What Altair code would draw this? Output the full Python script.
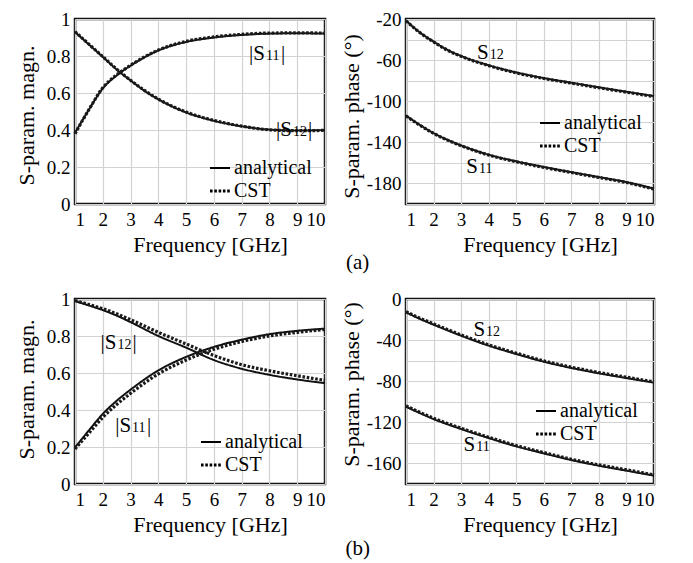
import altair as alt
import pandas as pd

FONT = "Liberation Serif"
GFONT = alt.ExprRef(expr="'Liberation Serif'")
METHODS = ["analytical", "CST"]
FREQ_TICKS = [1, 2, 3, 4, 5, 6, 7, 8, 9, 10]

# ---------- (a) magnitude ----------
A_MAG_F = [1, 1.5, 2, 2.5, 3, 3.5, 4, 5, 6, 7, 8, 9, 10]
A_S11_MAG_AN = [0.385, 0.51, 0.625, 0.695, 0.748, 0.793, 0.83, 0.876, 0.90, 0.914, 0.921, 0.923, 0.921]
A_S11_MAG_CST = [0.38, 0.51, 0.628, 0.698, 0.75, 0.795, 0.832, 0.879, 0.903, 0.917, 0.924, 0.925, 0.924]
A_S12_MAG_AN = [0.93, 0.862, 0.795, 0.727, 0.668, 0.612, 0.566, 0.495, 0.45, 0.42, 0.402, 0.397, 0.40]
A_S12_MAG_CST = [0.932, 0.864, 0.797, 0.729, 0.669, 0.614, 0.567, 0.497, 0.452, 0.421, 0.401, 0.396, 0.398]

# ---------- (a) phase ----------
A_PH_F = [1, 1.5, 2, 2.5, 3, 4, 5, 6, 7, 8, 9, 10]
A_S12_PH_AN = [-21.5, -33, -42, -50, -56, -65, -72, -77.5, -82, -86.5, -90.8, -95]
A_S12_PH_CST = [-21.8, -33.2, -42.3, -50.3, -56.3, -65.4, -72.4, -77.9, -82.4, -86.9, -91.2, -95.5]
A_S11_PH_AN = [-114, -123, -131, -137.5, -143, -152, -158.5, -164, -169, -173.8, -178.7, -185]
A_S11_PH_CST = [-114.3, -123.3, -131.3, -137.8, -143.3, -152.4, -158.9, -164.4, -169.4, -174.2, -179.1, -185.5]

# ---------- (b) magnitude ----------
B_MAG_F = [1, 1.5, 2, 2.5, 3, 4, 5, 6, 7, 8, 9, 10]
B_S11_MAG_AN = [0.197, 0.29, 0.379, 0.45, 0.51, 0.614, 0.687, 0.741, 0.78, 0.81, 0.828, 0.84]
B_S11_MAG_CST = [0.19, 0.275, 0.36, 0.43, 0.49, 0.595, 0.67, 0.728, 0.77, 0.80, 0.82, 0.835]
B_S12_MAG_AN = [0.989, 0.965, 0.94, 0.91, 0.875, 0.80, 0.737, 0.67, 0.623, 0.59, 0.565, 0.545]
B_S12_MAG_CST = [0.992, 0.97, 0.948, 0.92, 0.888, 0.82, 0.757, 0.695, 0.645, 0.612, 0.585, 0.56]

# ---------- (b) phase ----------
B_PH_F = [1, 1.5, 2, 3, 4, 5, 6, 7, 8, 9, 10]
B_S12_PH_AN = [-13, -19.3, -25, -35.7, -45.4, -53.5, -61, -67.1, -72.3, -76.9, -81.4]
B_S12_PH_CST = [-12.3, -18.6, -24.2, -34.9, -44.6, -52.7, -60.2, -66.3, -71.5, -76.1, -80.6]
B_S11_PH_AN = [-104.8, -111, -116.8, -126.5, -135.3, -143.4, -150.2, -156.7, -162.2, -167, -171.9]
B_S11_PH_CST = [-104.0, -110.2, -116.0, -125.7, -134.5, -142.6, -149.4, -155.9, -161.4, -166.2, -171.1]

# curve labels: (freq, value, main text, subscript, closing bar)
A_MAG_LABELS = [(7.84, 0.78, "|S", "11", True), (8.81, 0.366, "|S", "12", True)]
A_PH_LABELS = [(4.0, -58.6, "S", "12", False), (3.61, -169.9, "S", "11", False)]
B_MAG_LABELS = [(2.49, 0.732, "|S", "12", True), (3.02, 0.279, "|S", "11", True)]
B_PH_LABELS = [(3.87, -36, "S", "12", False), (3.51, -147.9, "S", "11", False)]

MAG_TICKS = [0, 0.2, 0.4, 0.6, 0.8, 1]
A_PH_GRID = [-20, -40, -60, -80, -100, -120, -140, -160, -180, -200]
B_PH_GRID = [0, -20, -40, -60, -80, -100, -120, -140, -160, -180]

AXIS_STYLE = dict(domain=False, ticks=False, labelFont=GFONT, labelFontSize=19,
                  labelColor="black", titleFont=GFONT, titleFontSize=22,
                  titleFontWeight="normal", titleColor="black",
                  gridColor="#d2d2d2", gridWidth=1.2, gridOpacity=1)


def long_df(freq, series):
    rows = []
    for (name, method), vals in series:
        for f, v in zip(freq, vals):
            rows.append({"f": f, "v": v, "curve": name, "method": method})
    return pd.DataFrame(rows)


def panel(freq, series, ydomain, yvalues, label_expr, ytitle, labels,
          legend_xy, width, title_x, title_y):
    height = 185
    df = long_df(freq, series)
    x_axis = alt.Axis(values=FREQ_TICKS, title="Frequency [GHz]",
                      titleX=width / 2 + 10, titleY=47,
                      titleBaseline="alphabetic", labelPadding=6, **AXIS_STYLE)
    y_axis = alt.Axis(values=yvalues, labelExpr=label_expr, title=ytitle,
                      titleAngle=270, titleX=title_x, titleY=title_y,
                      titleBaseline="alphabetic", titleAlign="center",
                      labelPadding=5, **AXIS_STYLE)
    xs = alt.Scale(domain=[1, 10], nice=False, zero=False)
    ys = alt.Scale(domain=ydomain, nice=False, zero=False)
    leg = alt.Legend(orient="none", legendX=legend_xy[0], legendY=legend_xy[1],
                     title=None, symbolType="stroke", symbolSize=400,
                     symbolStrokeColor="black", labelFont=GFONT,
                     labelFontSize=20, labelColor="black", labelOffset=2,
                     rowPadding=1, padding=0)
    dash = alt.StrokeDash("method:O",
                          scale=alt.Scale(domain=METHODS, range=[[1, 0], [2.6, 1.7]]),
                          legend=leg)
    sw = alt.StrokeWidth("method:O",
                         scale=alt.Scale(domain=METHODS, range=[2.0, 3.2]),
                         legend=leg)
    X = alt.X("f:Q", scale=xs, axis=x_axis)
    Y = alt.Y("v:Q", scale=ys, axis=y_axis)
    layers = []
    for m, col in (("analytical", "#111111"), ("CST", "#1a1a1a")):
        layers.append(
            alt.Chart(df[df["method"] == m])
            .mark_line(interpolate="monotone", color=col)
            .encode(x=X, y=Y, detail="curve:N", strokeDash=dash, strokeWidth=sw)
        )
    main_df = pd.DataFrame([{"f": l[0], "v": l[1], "t": l[2]} for l in labels])
    sub_df = pd.DataFrame([{"f": l[0], "v": l[1], "t": l[3]} for l in labels])
    bar_df = pd.DataFrame([{"f": l[0], "v": l[1], "t": "|"} for l in labels if l[4]])
    layers.append(
        alt.Chart(main_df).mark_text(font=FONT, fontSize=21, align="right",
                                     baseline="alphabetic", color="black")
        .encode(x=X, y=Y, text="t:N")
    )
    layers.append(
        alt.Chart(sub_df).mark_text(font=FONT, fontSize=14, align="left", dx=1,
                                    baseline="alphabetic", color="black")
        .encode(x=X, y=Y, text="t:N")
    )
    if len(bar_df):
        layers.append(
            alt.Chart(bar_df).mark_text(font=FONT, fontSize=21, align="left", dx=16,
                                        baseline="alphabetic", color="black")
            .encode(x=X, y=Y, text="t:N")
        )
    return alt.layer(*layers).properties(
        width=width, height=height,
        view=alt.ViewBackground(stroke="#111111", strokeWidth=2.5))


mag_expr = "'' + datum.value"
a_ph_expr = "(datum.value + 20) % 40 == 0 ? '' + datum.value : ''"
b_ph_expr = "datum.value % 40 == 0 ? '' + datum.value : ''"

pa1 = panel(A_MAG_F,
            [(("S11", "analytical"), A_S11_MAG_AN), (("S11", "CST"), A_S11_MAG_CST),
             (("S12", "analytical"), A_S12_MAG_AN), (("S12", "CST"), A_S12_MAG_CST)],
            [0, 1], MAG_TICKS, mag_expr, "S-param. magn.", A_MAG_LABELS,
            (133, 138), 250, -42, 96)
pa2 = panel(A_PH_F,
            [(("S12", "analytical"), A_S12_PH_AN), (("S12", "CST"), A_S12_PH_CST),
             (("S11", "analytical"), A_S11_PH_AN), (("S11", "CST"), A_S11_PH_CST)],
            [-200, -20], A_PH_GRID, a_ph_expr, "S-param. phase (°)", A_PH_LABELS,
            (132, 93), 248, -48, 97)
pb1 = panel(B_MAG_F,
            [(("S11", "analytical"), B_S11_MAG_AN), (("S11", "CST"), B_S11_MAG_CST),
             (("S12", "analytical"), B_S12_MAG_AN), (("S12", "CST"), B_S12_MAG_CST)],
            [0, 1], MAG_TICKS, mag_expr, "S-param. magn.", B_MAG_LABELS,
            (124, 132), 250, -42, 90)
pb2 = panel(B_PH_F,
            [(("S12", "analytical"), B_S12_PH_AN), (("S12", "CST"), B_S12_PH_CST),
             (("S11", "analytical"), B_S11_PH_AN), (("S11", "CST"), B_S11_PH_CST)],
            [-180, 0], B_PH_GRID, b_ph_expr, "S-param. phase (°)", B_PH_LABELS,
            (128, 101), 248, -48, 85)

indep_s = dict(x="independent", y="independent",
               strokeDash="independent", strokeWidth="independent")
indep_l = dict(strokeDash="independent", strokeWidth="independent")

TITLE_BASE = dict(orient="bottom", anchor="middle", font=FONT, fontSize=21,
                  fontWeight="normal", color="black", dx=20)

row_a = (alt.hconcat(pa1, pa2, spacing=5,
                     title=alt.TitleParams("(a)", offset=-4, **TITLE_BASE))
         .resolve_scale(**indep_s).resolve_legend(**indep_l))
row_b = (alt.hconcat(pb1, pb2, spacing=5,
                     title=alt.TitleParams("(b)", offset=2, **TITLE_BASE))
         .resolve_scale(**indep_s).resolve_legend(**indep_l))

chart = (
    alt.vconcat(row_a, row_b, spacing=14)
    .resolve_scale(**indep_s).resolve_legend(**indep_l)
    .properties(padding={"left": 5, "top": 0, "right": 5, "bottom": 0})
    .configure(font=FONT,
               style={"guide-label": {"font": FONT},
                      "guide-title": {"font": FONT, "fontWeight": "normal"}})
    .configure_view(stroke="#111111", strokeWidth=2.5)
    .configure_axis(**AXIS_STYLE)
    .configure_title(font=FONT, fontSize=21, fontWeight="normal", color="black")
)

chart.save("out.html", embed_options={"renderer": "svg", "actions": False})
